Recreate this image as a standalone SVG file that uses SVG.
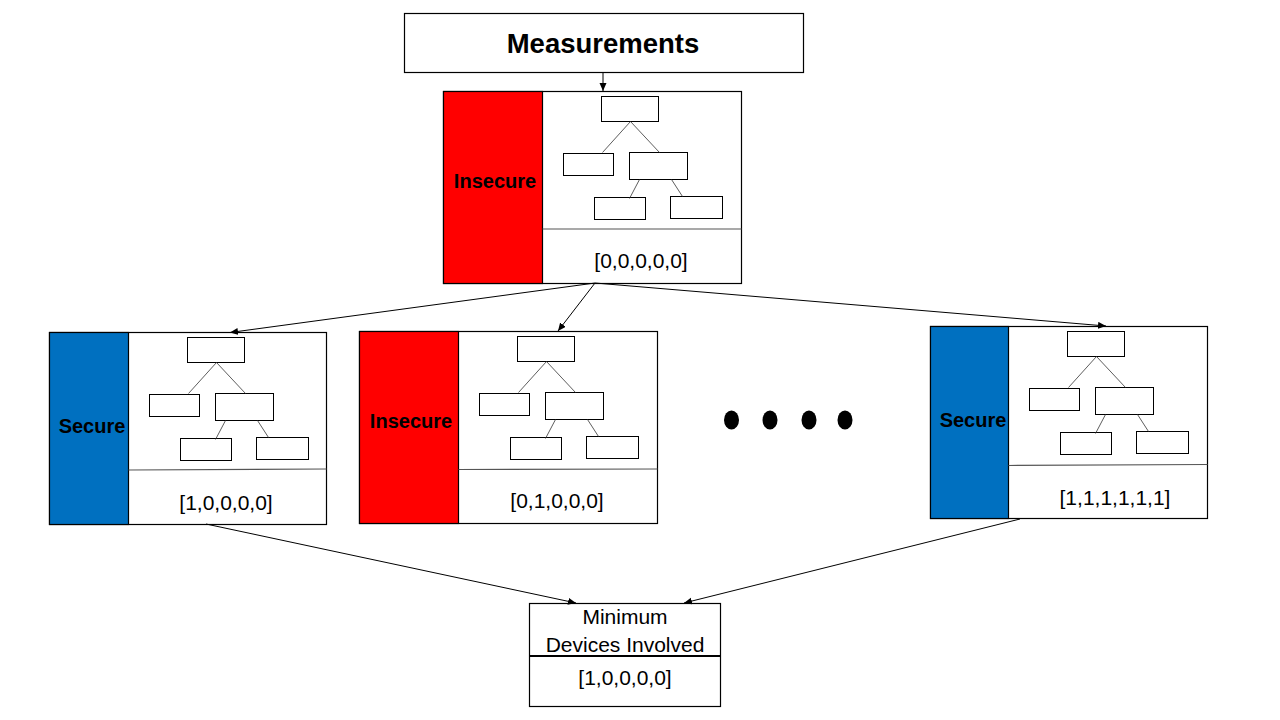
<svg xmlns="http://www.w3.org/2000/svg" xmlns:xlink="http://www.w3.org/1999/xlink" width="1280" height="720" viewBox="0 0 1280 720">
<style>
.box{fill:#fff;stroke:#000;stroke-width:1.2}
.red{fill:#FF0000;stroke:#000;stroke-width:1.2}
.blue{fill:#0070C0;stroke:#000;stroke-width:1.2}
.tb{fill:#fff;stroke:#000;stroke-width:1}
.tl{stroke:#333;stroke-width:0.8;fill:none}
.div{stroke:#555;stroke-width:1.2}
.lbl{font-family:"Liberation Sans",Arial,sans-serif;font-weight:bold;font-size:20px;fill:#000;text-anchor:middle}
.vec{font-family:"Liberation Sans",Arial,sans-serif;font-size:21px;fill:#000;text-anchor:middle}
.title{font-family:"Liberation Sans",Arial,sans-serif;font-weight:bold;font-size:27.5px;fill:#000;text-anchor:middle}
.conn{stroke:#000;stroke-width:1;fill:none;marker-end:url(#arr)}
</style>
<defs>
<marker id="arr" markerUnits="userSpaceOnUse" markerWidth="9" markerHeight="8" refX="8" refY="3.5" orient="auto">
<path d="M0,0 L8,3.5 L0,7 z" fill="#000"/>
</marker>
<g id="tree">
<rect class="tb" x="59" y="5" width="57" height="25"/>
<rect class="tb" x="21" y="62" width="50" height="22"/>
<rect class="tb" x="87" y="61" width="58" height="27"/>
<rect class="tb" x="52" y="106" width="51" height="22"/>
<rect class="tb" x="128" y="105" width="52" height="22"/>
<line class="tl" x1="88" y1="30" x2="60" y2="61"/>
<line class="tl" x1="88" y1="30" x2="117" y2="61"/>
<line class="tl" x1="97" y1="88" x2="87" y2="107"/>
<line class="tl" x1="129" y1="88" x2="140" y2="105"/>
</g>
</defs>
<rect width="1280" height="720" fill="#fff"/>

<g id="measurements">
<rect class="box" x="404.5" y="13.5" width="399" height="59"/>
<text class="title" x="603" y="53">Measurements</text>
</g>

<g id="nodeA">
<rect class="box" x="443.5" y="91.5" width="298" height="192"/>
<rect class="red" x="443.5" y="91.5" width="99" height="192"/>
<use xlink:href="#tree" x="542.5" y="91.5"/>
<line class="div" x1="542.5" y1="229" x2="741.5" y2="229"/>
<text class="lbl" x="495" y="188">Insecure</text>
<text class="vec" x="641" y="268">[0,0,0,0,0]</text>
</g>

<g id="nodeB">
<rect class="box" x="49.5" y="332.5" width="277" height="192"/>
<rect class="blue" x="49.5" y="332.5" width="79" height="192"/>
<use xlink:href="#tree" x="128.5" y="332.5"/>
<line class="div" x1="128.5" y1="470" x2="326.5" y2="469"/>
<text class="lbl" x="92" y="433">Secure</text>
<text class="vec" x="226" y="510">[1,0,0,0,0]</text>
</g>

<g id="nodeC">
<rect class="box" x="359.5" y="331.5" width="298" height="192"/>
<rect class="red" x="359.5" y="331.5" width="99" height="192"/>
<use xlink:href="#tree" x="458.5" y="331.5"/>
<line class="div" x1="458.5" y1="469.5" x2="657.5" y2="469"/>
<text class="lbl" x="411" y="428">Insecure</text>
<text class="vec" x="557" y="508">[0,1,0,0,0]</text>
</g>

<g id="nodeD">
<rect class="box" x="930.5" y="326.5" width="277" height="192"/>
<rect class="blue" x="930.5" y="326.5" width="78" height="192"/>
<use xlink:href="#tree" x="1008.5" y="326.5"/>
<line class="div" x1="1008.5" y1="465.5" x2="1207.5" y2="464.5"/>
<text class="lbl" x="973" y="427">Secure</text>
<text class="vec" x="1115" y="505">[1,1,1,1,1,1]</text>
</g>

<g id="ellipsis">
<ellipse cx="731.5" cy="420" rx="7.5" ry="9.5" fill="#000"/>
<ellipse cx="770" cy="420" rx="7.5" ry="9.5" fill="#000"/>
<ellipse cx="809" cy="420" rx="7.5" ry="9.5" fill="#000"/>
<ellipse cx="845" cy="420" rx="7.5" ry="9.5" fill="#000"/>
</g>

<g id="minimum">
<rect class="box" x="529.5" y="603.5" width="191" height="103"/>
<line x1="529.5" y1="656" x2="720.5" y2="656" stroke="#000" stroke-width="2"/>
<text class="vec" x="625" y="624">Minimum</text>
<text class="vec" x="625" y="652">Devices Involved</text>
<text class="vec" x="625" y="685">[1,0,0,0,0]</text>
</g>

<g id="connectors">
<line class="conn" x1="603" y1="72" x2="603" y2="91"/>
<line class="conn" x1="595" y1="283" x2="230" y2="332.5"/>
<line class="conn" x1="595" y1="283" x2="558" y2="331"/>
<line class="conn" x1="595" y1="283" x2="1106" y2="326"/>
<line class="conn" x1="206" y1="524" x2="576" y2="603"/>
<line class="conn" x1="1020" y1="519" x2="684" y2="603"/>
</g>
</svg>
